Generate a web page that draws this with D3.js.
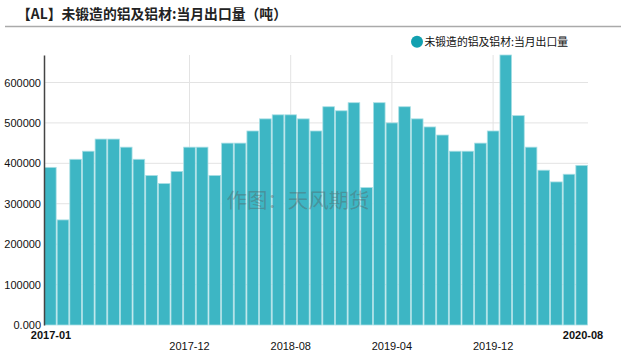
<!DOCTYPE html>
<html><head><meta charset="utf-8">
<script src="https://cdn.jsdelivr.net/npm/d3@7"></script>
<style>body{margin:0;background:#fff;}svg{display:block;font-family:Arial,"Liberation Sans","Noto Sans CJK SC",sans-serif;}</style>
</head><body><svg id="c" width="621" height="357"></svg>
<script>
const title = "【AL】未锻造的铝及铝材:当月出口量（吨）";
const seriesName = "未锻造的铝及铝材:当月出口量";
const months = ["2017-01","2017-02","2017-03","2017-04","2017-05","2017-06","2017-07","2017-08","2017-09","2017-10","2017-11","2017-12",
"2018-01","2018-02","2018-03","2018-04","2018-05","2018-06","2018-07","2018-08","2018-09","2018-10","2018-11","2018-12",
"2019-01","2019-02","2019-03","2019-04","2019-05","2019-06","2019-07","2019-08","2019-09","2019-10","2019-11","2019-12",
"2020-01","2020-02","2020-03","2020-04","2020-05","2020-06","2020-07"];
const values = [390000,260000,410000,430000,460000,460000,440000,410000,370000,350000,380000,440000,
440000,370000,450000,450000,480000,510000,520000,520000,510000,480000,540000,530000,
550000,340000,550000,500000,540000,510000,490000,470000,430000,430000,450000,480000,
668000,518000,440000,383000,354000,373000,395000];
const yTicks = [0,100000,200000,300000,400000,500000,600000];
const xTickLabels = ["2017-12","2018-08","2019-04","2019-12"];
const xEdgeLabels = ["2017-01","2020-08"];

const svg = d3.select("#c");
const m = {l:44, r:33, t:55, b:32};
const W = 621, H = 357;
const x = d3.scaleBand().domain(months).range([m.l, W - m.r]).paddingInner(0).paddingOuter(0);
const y = d3.scaleLinear().domain([0, d3.max(values)]).range([H - m.b, m.t]);

// title
svg.append("text").attr("x", 17).attr("y", 19).attr("font-size", 14).attr("font-weight", "bold")
  .attr("textLength", 270).attr("lengthAdjust", "spacingAndGlyphs")
  .attr("fill", "#222").attr("font-family", "'Noto Sans CJK SC',sans-serif").text(title);
svg.append("line").attr("x1", 5).attr("x2", 621).attr("y1", 26.5).attr("y2", 26.5).attr("stroke", "#aaa").attr("stroke-width", 1.5);

// gridlines
svg.append("g").selectAll("line").data(yTicks.slice(1)).join("line")
  .attr("x1", m.l).attr("x2", W - m.r).attr("y1", d => y(d)).attr("y2", d => y(d))
  .attr("stroke", "#e3e3e3").attr("stroke-width", 1);
svg.append("g").selectAll("line").data(xTickLabels).join("line")
  .attr("x1", d => x(d) + x.bandwidth()/2).attr("x2", d => x(d) + x.bandwidth()/2)
  .attr("y1", m.t).attr("y2", H - m.b).attr("stroke", "#e3e3e3").attr("stroke-width", 1);

// bars
svg.append("g").selectAll("rect").data(months).join("rect")
  .attr("x", d => x(d) + 0.5).attr("width", x.bandwidth() - 1)
  .attr("y", (d,i) => y(values[i])).attr("height", (d,i) => y(0) - y(values[i]))
  .attr("fill", "#3db6c4").attr("stroke", "#a9dfe5").attr("stroke-width", 0.8);

// watermark
svg.append("text").attr("x", 298).attr("y", 208).attr("text-anchor", "middle").attr("font-size", 20)
  .attr("textLength", 143).attr("lengthAdjust", "spacingAndGlyphs")
  .attr("fill", "rgba(90,90,90,0.4)").attr("font-family", "'Noto Sans CJK SC',sans-serif").text("作图：天风期货");

// y axis
const ya = svg.append("g").attr("transform", `translate(${m.l},0)`)
  .call(d3.axisLeft(y).tickValues(yTicks).tickSize(0).tickPadding(3).tickFormat(d => d === 0 ? "0.000" : d3.format("d")(d)));
ya.select(".domain").attr("stroke", "#444").attr("stroke-width", 1.5);
ya.selectAll("text").attr("font-size", 11).attr("fill", "#111").attr("font-family", "Arial,'Liberation Sans',sans-serif");

// x axis labels
const xa = svg.append("g").attr("transform", `translate(0,${H - m.b})`)
  .call(d3.axisBottom(x).tickValues(xTickLabels).tickSize(0).tickPadding(17));
xa.select(".domain").remove();
xa.selectAll("text").attr("font-size", 11).attr("fill", "#111").attr("font-family", "Arial,'Liberation Sans',sans-serif");

svg.append("text").attr("x", 51).attr("y", 339).attr("text-anchor", "middle").attr("font-size", 11)
  .attr("font-weight", "bold").attr("fill", "#111").text(xEdgeLabels[0]);
svg.append("text").attr("x", 583).attr("y", 339).attr("text-anchor", "middle").attr("font-size", 11)
  .attr("font-weight", "bold").attr("fill", "#111").text(xEdgeLabels[1]);

// legend
svg.append("circle").attr("cx", 417).attr("cy", 41.7).attr("r", 6).attr("fill", "#12a0b0");
svg.append("text").attr("x", 424.5).attr("y", 46).attr("font-size", 11).attr("fill", "#111")
  .attr("textLength", 143.5).attr("lengthAdjust", "spacingAndGlyphs")
  .attr("font-family", "'Noto Sans CJK SC',sans-serif").text(seriesName);
</script></body></html>
